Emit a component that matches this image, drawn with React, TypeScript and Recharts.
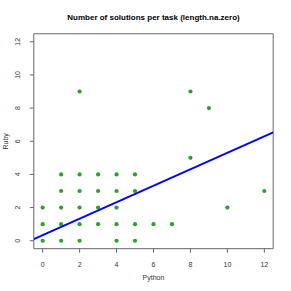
import React from 'react';
import { ScatterChart, Scatter, XAxis, YAxis, ReferenceArea } from 'recharts';

const pythonVals = [1, 2, 3, 4, 5, 1, 2, 3, 4, 5, 0, 1, 2, 3, 4, 0, 1, 2, 3, 4, 5, 6, 7, 0, 1, 2, 4, 5, 2, 8, 9, 8, 10, 12];
const rubyVals = [4, 4, 4, 4, 4, 3, 3, 3, 3, 3, 2, 2, 2, 2, 2, 1, 1, 1, 1, 1, 1, 1, 1, 0, 0, 0, 0, 0, 9, 9, 8, 5, 2, 3];
const fitX = [-0.48, 12.48];
const fitY = [0.1, 6.54];
const tickVals = [0, 2, 4, 6, 8, 10, 12];
const title = 'Number of solutions per task (length.na.zero)';
const xLabel = 'Python';
const yLabel = 'Ruby';

const points = pythonVals.map((x, i) => ({ x, y: rubyVals[i] }));
const fitLine = fitX.map((x, i) => ({ x, y: fitY[i] }));

const FONT = '"Liberation Sans", Arial, sans-serif';
const DOM: [number, number] = [-0.48, 12.48];

const YTick = (props: any) => {
  const { x, y, payload } = props;
  return (
    <text x={x - 8} y={y} transform={`rotate(-90, ${x - 8}, ${y})`} textAnchor="middle" fontSize={7} fontFamily={FONT} fill="#333">
      {payload.value}
    </text>
  );
};

const XTick = (props: any) => {
  const { x, y, payload } = props;
  return (
    <text x={x} y={y + 12} textAnchor="middle" fontSize={7} fontFamily={FONT} fill="#333">
      {payload.value}
    </text>
  );
};

export default function App() {
  return (
    <div style={{ position: 'absolute', left: 0, top: 0, background: '#fff' }}>
      <ScatterChart width={291} height={291} margin={{ top: 33.8, right: 17.8, bottom: 12.3, left: 3.8 }}>
        <text x={153.5} y={20} textAnchor="middle" fontSize={8} fontWeight="bold" fontFamily={FONT} fill="#000">
          {title}
        </text>
        <text x={153.5} y={280} textAnchor="middle" fontSize={7} fontFamily={FONT} fill="#333">
          {xLabel}
        </text>
        <text x={8} y={141.3} transform="rotate(-90, 8, 141.3)" textAnchor="middle" fontSize={7} fontFamily={FONT} fill="#333">
          {yLabel}
        </text>
        <XAxis
          type="number"
          dataKey="x"
          domain={DOM}
          ticks={tickVals}
          height={30}
          allowDataOverflow
          tickLine={{ stroke: '#666' }}
          tickSize={4}
          axisLine={false}
          tick={<XTick />}
        />
        <YAxis
          type="number"
          dataKey="y"
          domain={DOM}
          ticks={tickVals}
          width={30}
          allowDataOverflow
          tickLine={{ stroke: '#666' }}
          tickSize={4}
          axisLine={false}
          tick={<YTick />}
        />
        <Scatter data={points} fill="#2ca02c" isAnimationActive={false} shape={(p: any) => <circle cx={p.cx} cy={p.cy} r={2.1} fill="#2ca02c" />} />
        <Scatter
          data={fitLine}
          isAnimationActive={false}
          line={{ stroke: '#0000ff', strokeWidth: 2 }}
          shape={() => <g />}
        />
        <ReferenceArea x1={DOM[0]} x2={DOM[1]} y1={DOM[0]} y2={DOM[1]} fill="none" stroke="#666" strokeWidth={1} ifOverflow="visible" />
      </ScatterChart>
    </div>
  );
}
